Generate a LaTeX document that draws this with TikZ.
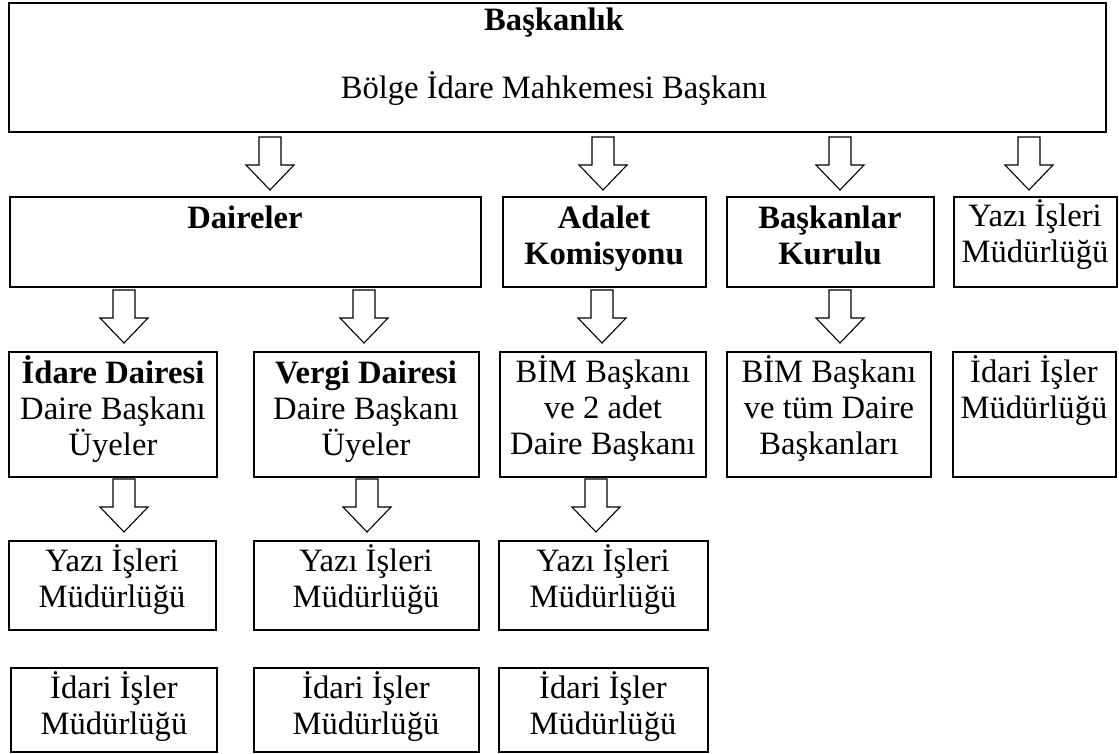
\documentclass[tikz,border=0pt]{standalone}
\usepackage{fontspec}
\setmainfont{Liberation Serif}
\newcommand\bx[5]{\node[box, anchor=north west, minimum width={(#4-#2)*0.5pt}, minimum height={(#5-#3)*0.5pt}] (#1) at (#2,#3) {};}
\newcommand\fl[1]{\smash{#1}\strut}
\tikzset{
  box/.style={draw, line width=1pt, inner sep=0pt, outer sep=0pt},
  txt/.style={anchor=north, inner sep=0pt, align=center, font=\fontsize{16.3}{18}\selectfont},
  barrow/.pic={\draw[line width=0.55pt, fill=white] (-11,0) -- (11,0) -- (11,28) -- (24,28) -- (0,53) -- (-24,28) -- (-11,28) -- cycle;}
}
\begin{document}
\begin{tikzpicture}[x=0.5pt, y=-0.5pt]
\useasboundingbox[fill=white] (0,0) rectangle (1119,754);
% boxes
\bx{top}{9}{3}{1106}{132}
\bx{dair}{10}{197}{481}{287}
\bx{adalet}{503}{197}{706}{287}
\bx{bkur}{727}{197}{934}{287}
\bx{yazi0}{954}{197}{1117}{287}
\bx{idare}{9}{352}{217}{477}
\bx{vergi}{254}{352}{479}{477}
\bx{bimA}{500}{352}{706}{477}
\bx{bimB}{727}{352}{931}{477}
\bx{idari0}{953}{352}{1116}{477}
\bx{yazi1}{9}{541}{216}{630}
\bx{yazi2}{254}{541}{479}{630}
\bx{yazi3}{499}{541}{708}{630}
\bx{idari1}{11}{668}{217}{752}
\bx{idari2}{254}{668}{479}{752}
\bx{idari3}{499}{668}{708}{752}
% texts
\node[txt] (tTop1) at (554,5) {\fl{\textbf{Başkanlık}}};
\node[txt] (tTop2) at (554,73) {\fl{Bölge İdare Mahkemesi Başkanı}};
\node[txt] (tDair) at (245,203) {\fl{\textbf{Daireler}}};
\node[txt] (tAdalet) at (604,203) {\fl{\textbf{Adalet}}\\\textbf{Komisyonu}};
\node[txt] (tBkur) at (830,203) {\fl{\textbf{Başkanlar}}\\\textbf{Kurulu}};
\node[txt] (tYazi0) at (1035,201) {\fl{Yazı İşleri}\\Müdürlüğü};
\node[txt] (tIdare) at (113,358) {\fl{\textbf{İdare Dairesi}}\\Daire Başkanı\\Üyeler};
\node[txt] (tVergi) at (366,358) {\fl{\textbf{Vergi Dairesi}}\\Daire Başkanı\\Üyeler};
\node[txt] (tBimA) at (603,357) {\fl{BİM Başkanı}\\ve 2 adet\\Daire Başkanı};
\node[txt] (tBimB) at (829,357) {\fl{BİM Başkanı}\\ve tüm Daire\\Başkanları};
\node[txt] (tIdari0) at (1034,357) {\fl{İdari İşler}\\Müdürlüğü};
\node[txt] (tYazi1) at (112,546) {\fl{Yazı İşleri}\\Müdürlüğü};
\node[txt] (tYazi2) at (366,546) {\fl{Yazı İşleri}\\Müdürlüğü};
\node[txt] (tYazi3) at (603,546) {\fl{Yazı İşleri}\\Müdürlüğü};
\node[txt] (tIdari1) at (114,673) {\fl{İdari İşler}\\Müdürlüğü};
\node[txt] (tIdari2) at (366,673) {\fl{İdari İşler}\\Müdürlüğü};
\node[txt] (tIdari3) at (603,673) {\fl{İdari İşler}\\Müdürlüğü};
% block arrows
\pic at (270,137) {barrow};
\pic at (603,137) {barrow};
\pic at (840,137) {barrow};
\pic at (1029,137) {barrow};
\pic at (124,290) {barrow};
\pic at (364,290) {barrow};
\pic at (602,290) {barrow};
\pic at (840,290) {barrow};
\pic at (124,479) {barrow};
\pic at (367,479) {barrow};
\pic at (596,479) {barrow};
\end{tikzpicture}
\end{document}
